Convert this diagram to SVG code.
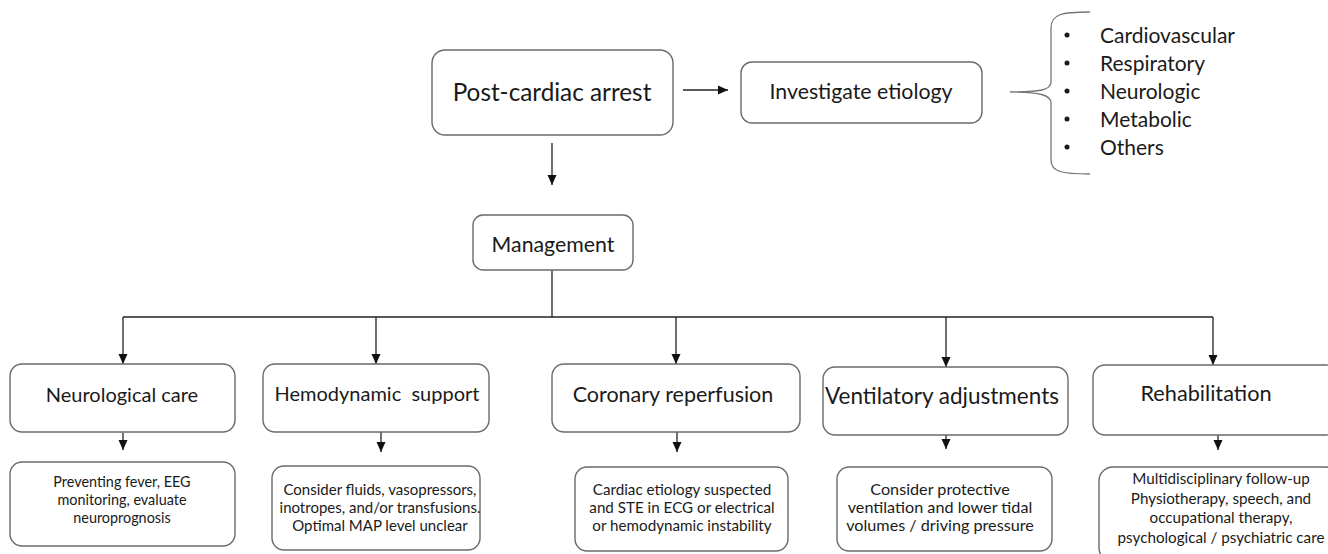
<svg xmlns="http://www.w3.org/2000/svg" width="1328" height="554" viewBox="0 0 1328 554">
<defs>
<style>
.box{fill:#fff;stroke:#6a6a6a;stroke-width:1.4}
.t{font-family:Lato,"Liberation Sans",sans-serif;fill:#1a1a1a;text-anchor:middle}
.big{font-size:24.3px}
.mid{font-size:20px}
.sm{font-size:15px}
.li{font-family:Lato,"Liberation Sans",sans-serif;fill:#1a1a1a;font-size:21px}
.c{fill:none;stroke:#222;stroke-width:1.3}
.br{fill:none;stroke:#777;stroke-width:1.3}
</style>
<marker id="ah" markerUnits="userSpaceOnUse" markerWidth="10" markerHeight="10" viewBox="0 0 10 10" refX="10" refY="5" orient="auto">
<path d="M0,0.5 L10,5 L0,9.5 Z" fill="#111"/>
</marker>
</defs>
<rect width="1328" height="554" fill="#fff"/>

<g id="connectors">
<line class="c" x1="683" y1="90" x2="728" y2="90" marker-end="url(#ah)"/>
<line class="c" x1="552" y1="143" x2="552" y2="185" marker-end="url(#ah)"/>
<polyline class="c" points="552,270 552,317"/>
<line class="c" x1="123" y1="317" x2="1213" y2="317"/>
<line class="c" x1="123" y1="317" x2="123" y2="364" marker-end="url(#ah)"/>
<line class="c" x1="376" y1="317" x2="376" y2="364" marker-end="url(#ah)"/>
<line class="c" x1="676" y1="317" x2="676" y2="364" marker-end="url(#ah)"/>
<line class="c" x1="946" y1="317" x2="946" y2="367" marker-end="url(#ah)"/>
<line class="c" x1="1213" y1="317" x2="1213" y2="365" marker-end="url(#ah)"/>
<line class="c" x1="123" y1="433" x2="123" y2="450" marker-end="url(#ah)"/>
<line class="c" x1="381" y1="432" x2="381" y2="452" marker-end="url(#ah)"/>
<line class="c" x1="677" y1="432" x2="677" y2="452" marker-end="url(#ah)"/>
<line class="c" x1="946" y1="435" x2="946" y2="449" marker-end="url(#ah)"/>
<line class="c" x1="1218" y1="435" x2="1218" y2="450" marker-end="url(#ah)"/>
</g>

<g id="post-cardiac-arrest">
<rect class="box" x="432" y="50" width="241" height="85" rx="13"/>
<text class="t big" x="552" y="101">Post-cardiac arrest</text>
</g>

<g id="investigate-etiology">
<rect class="box" x="741" y="62" width="241" height="61" rx="11"/>
<text class="t" x="861" y="99" style="font-size:21.3px">Investigate etiology</text>
</g>

<g id="etiology-list">
<path class="br" d="M1090,12 C1062,12 1051,14 1051,28 L1051,82 C1051,90 1040,92 1010,92 C1040,92 1051,95 1051,103 L1051,160 C1051,172 1062,174 1090,174"/>
<g class="li">
<circle cx="1067" cy="35" r="2.5" fill="#1a1a1a"/>
<circle cx="1067" cy="63" r="2.5" fill="#1a1a1a"/>
<circle cx="1067" cy="91" r="2.5" fill="#1a1a1a"/>
<circle cx="1067" cy="119" r="2.5" fill="#1a1a1a"/>
<circle cx="1067" cy="147" r="2.5" fill="#1a1a1a"/>
<text x="1100" y="43">Cardiovascular</text>
<text x="1100" y="71">Respiratory</text>
<text x="1100" y="99">Neurologic</text>
<text x="1100" y="127">Metabolic</text>
<text x="1100" y="155">Others</text>
</g>
</g>

<g id="management">
<rect class="box" x="473" y="215" width="160" height="55" rx="10"/>
<text class="t" x="553" y="252" style="font-size:21.3px">Management</text>
</g>

<g id="neurological-care">
<rect class="box" x="10" y="364" width="225" height="68" rx="12"/>
<text class="t mid" x="122" y="402">Neurological care</text>
</g>
<g id="hemodynamic-support">
<rect class="box" x="263" y="364" width="226" height="68" rx="12"/>
<text class="t mid" x="377" y="401" xml:space="preserve">Hemodynamic  support</text>
</g>
<g id="coronary-reperfusion">
<rect class="box" x="552" y="364" width="248" height="68" rx="12"/>
<text class="t" x="673" y="402" style="font-size:21.5px">Coronary reperfusion</text>
</g>
<g id="ventilatory-adjustments">
<rect class="box" x="823" y="367" width="245" height="68" rx="12"/>
<text class="t" x="942" y="404" style="font-size:22.5px">Ventilatory adjustments</text>
</g>
<g id="rehabilitation">
<rect class="box" x="1093" y="365" width="245" height="70" rx="12"/>
<text class="t" x="1206" y="401" style="font-size:21.7px">Rehabilitation</text>
</g>

<g id="neuro-detail">
<rect class="box" x="10" y="462" width="225" height="84" rx="12"/>
<g class="t" style="font-size:14.4px">
<text x="122" y="487">Preventing fever, EEG</text>
<text x="122" y="505">monitoring, evaluate</text>
<text x="122" y="523">neuroprognosis</text>
</g>
</g>
<g id="hemo-detail">
<rect class="box" x="272" y="466" width="208" height="84" rx="12"/>
<g class="t sm">
<text x="380" y="495">Consider fluids, vasopressors,</text>
<text x="380" y="513">inotropes, and/or transfusions.</text>
<text x="380" y="531">Optimal MAP level unclear</text>
</g>
</g>
<g id="coronary-detail">
<rect class="box" x="575" y="467" width="213" height="84" rx="12"/>
<g class="t" style="font-size:15.2px">
<text x="682" y="495">Cardiac etiology suspected</text>
<text x="682" y="513">and STE in ECG or electrical</text>
<text x="682" y="531">or hemodynamic instability</text>
</g>
</g>
<g id="ventilatory-detail">
<rect class="box" x="837" y="467" width="215" height="84" rx="12"/>
<g class="t" style="font-size:16.2px">
<text x="940" y="495">Consider protective</text>
<text x="940" y="513">ventilation and lower tidal</text>
<text x="940" y="531">volumes / driving pressure</text>
</g>
</g>
<g id="rehab-detail">
<rect class="box" x="1099" y="467" width="240" height="95" rx="14"/>
<g class="t" style="font-size:15.2px">
<text x="1221" y="484">Multidisciplinary follow-up</text>
<text x="1221" y="504">Physiotherapy, speech, and</text>
<text x="1221" y="523">occupational therapy,</text>
<text x="1221" y="543">psychological / psychiatric care</text>
</g>
</g>
</svg>
